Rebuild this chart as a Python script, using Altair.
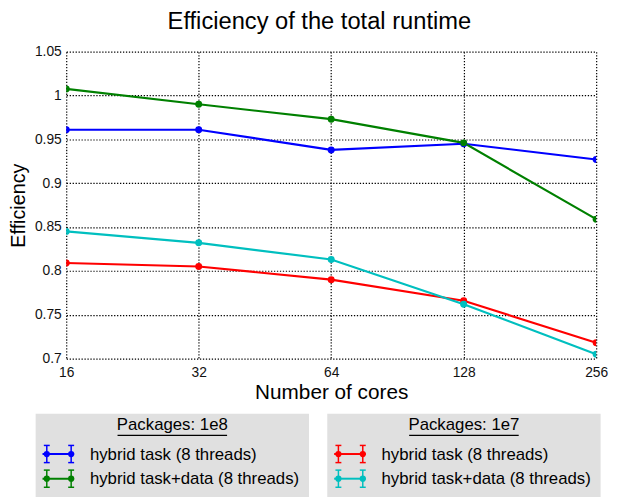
import altair as alt
import pandas as pd

# ---------------- data ----------------
cores = [16, 32, 64, 128, 256]
series_packages = ["1e8", "1e8", "1e7", "1e7"]
series_labels = [
    "hybrid task (8 threads)",
    "hybrid task+data (8 threads)",
    "hybrid task (8 threads)",
    "hybrid task+data (8 threads)",
]
series_colors = ["#0000ff", "#008000", "#ff0000", "#00bfbf"]
eff_1e8_task = [0.961, 0.961, 0.938, 0.945, 0.927]
eff_1e8_taskdata = [1.0075, 0.990, 0.973, 0.946, 0.859]
eff_1e7_task = [0.809, 0.805, 0.790, 0.766, 0.718]
eff_1e7_taskdata = [0.845, 0.832, 0.813, 0.762, 0.705]
series_values = [eff_1e8_task, eff_1e8_taskdata, eff_1e7_task, eff_1e7_taskdata]
y_ticks = [0.7, 0.75, 0.8, 0.85, 0.9, 0.95, 1.0, 1.05]
legend_packages = ["1e8", "1e7"]

TITLE = "Efficiency of the total runtime"
X_TITLE = "Number of cores"
Y_TITLE = "Efficiency"
FONT = "Liberation Sans"

keys = [f"{p}: {l}" for p, l in zip(series_packages, series_labels)]
df = pd.DataFrame(
    [
        {"cores": c, "eff": v, "key": k}
        for k, vals in zip(keys, series_values)
        for c, v in zip(cores, vals)
    ]
)

W, H = 537, 311

color = alt.Color("key:N", scale=alt.Scale(domain=keys, range=series_colors), legend=None)

x = alt.X(
    "cores:Q",
    scale=alt.Scale(type="log", base=2, domain=[16, 256], nice=False),
    axis=alt.Axis(
        values=cores, format="d", title=X_TITLE, labelFlush=False, labelOverlap=False,
        labelPadding=7, titleX=W / 2, titleY=40, titleAlign="center",
        titleBaseline="alphabetic", titleFontSize=21,
    ),
)
y = alt.Y(
    "eff:Q",
    scale=alt.Scale(domain=[0.7, 1.05], nice=False, zero=False),
    axis=alt.Axis(
        values=y_ticks, format="~g", title=Y_TITLE, labelOverlap=False, labelFlush=False,
        labelPadding=5, titleX=-48, titleY=H / 2, titleAlign="center",
        titleBaseline="middle", titleAngle=270, titleFontSize=20,
    ),
)

lines = alt.Chart(df).mark_line(strokeWidth=2.2, clip=True).encode(
    x=x, y=y, color=color, order="cores:Q"
)
points = alt.Chart(df).mark_point(filled=True, size=50, opacity=1, clip=True).encode(
    x=x, y=y, color=color
)

# ---------------- custom legend (pixel layout) ----------------
BOX_X0, BOX_W, BOX_STEP = -31, 277, 295.5
BOX_Y0, BOX_Y1 = 367, 460
TITLE_BASE = 383.3
UNDER_Y = 388.7
ITEM_Y0, ITEM_STEP = 407.7, 25

boxes = pd.DataFrame(
    [
        {"x1": BOX_X0 + i * BOX_STEP, "x2": BOX_X0 + i * BOX_STEP + BOX_W,
         "y1": BOX_Y0, "y2": BOX_Y1, "title": f"Packages: {p}",
         "cx": BOX_X0 + i * BOX_STEP + BOX_W / 2}
        for i, p in enumerate(legend_packages)
    ]
)
boxes["u1"] = boxes["cx"] - 55.5
boxes["u2"] = boxes["cx"] + 55.5
boxes["ty"] = TITLE_BASE
boxes["uy"] = UNDER_Y

items = []
for idx, (k, p, l) in enumerate(zip(keys, series_packages, series_labels)):
    b = legend_packages.index(p)
    row = sum(1 for q in series_packages[:idx] if q == p)
    ox = BOX_X0 + b * BOX_STEP
    cy = ITEM_Y0 + row * ITEM_STEP
    items.append({"key": k, "label": l, "cy": cy, "ty": cy + 5.6,
                  "lx1": ox + 7, "lx2": ox + 39, "m1": ox + 11.3, "m2": ox + 36,
                  "tx": ox + 55})
items = pd.DataFrame(items)

markers = []
for _, r in items.iterrows():
    for m in (r["m1"], r["m2"]):
        markers.append({"key": r["key"], "mx": m, "cy": r["cy"],
                        "v1": r["cy"] - 8.7, "v2": r["cy"] + 8.7,
                        "s1": m - 3, "s2": m + 3})
markers = pd.DataFrame(markers)
serifs = pd.concat(
    [markers.assign(sy=markers["v1"]), markers.assign(sy=markers["v2"])],
    ignore_index=True,
)

def px(f):
    return alt.X(f, type="quantitative", scale=None, axis=None)

def py(f):
    return alt.Y(f, type="quantitative", scale=None, axis=None)

leg_boxes = alt.Chart(boxes).mark_rect(color="#e0e0e0").encode(
    x=px("x1"), x2="x2", y=py("y1"), y2="y2"
)
leg_titles = alt.Chart(boxes).mark_text(
    font=FONT, fontSize=17, align="center", baseline="alphabetic", color="#000"
).encode(x=px("cx"), y=py("ty"), text="title:N")
leg_under = alt.Chart(boxes).mark_rule(color="#000", strokeWidth=1.3).encode(
    x=px("u1"), x2="u2", y=py("uy")
)
leg_lines = alt.Chart(items).mark_rule(strokeWidth=2).encode(
    x=px("lx1"), x2="lx2", y=py("cy"), color=color
)
leg_vbars = alt.Chart(markers).mark_rule(strokeWidth=1.5).encode(
    x=px("mx"), y=py("v1"), y2="v2", color=color
)
leg_serifs = alt.Chart(serifs).mark_rule(strokeWidth=1.5).encode(
    x=px("s1"), x2="s2", y=py("sy"), color=color
)
leg_points = alt.Chart(markers).mark_point(filled=True, size=40, opacity=1).encode(
    x=px("mx"), y=py("cy"), color=color
)
leg_text = alt.Chart(items).mark_text(
    font=FONT, fontSize=17, align="left", baseline="alphabetic", color="#000"
).encode(x=px("tx"), y=py("ty"), text="label:N")

chart = (
    alt.layer(
        lines, points,
        leg_boxes, leg_titles, leg_under, leg_lines, leg_vbars, leg_serifs,
        leg_points, leg_text,
    )
    .properties(
        width=W,
        height=H,
        title=alt.TitleParams(
            TITLE, fontSize=24, font=FONT, fontWeight="normal", color="#000",
            anchor="middle", frame="group", baseline="alphabetic", offset=0, dy=8, dx=-12,
        ),
        autosize=alt.AutoSizeParams(type="none"),
        padding={"left": 59, "top": 41, "right": 13, "bottom": 137},
    )
    .configure_view(strokeOpacity=0)
    .configure_axis(
        domain=False, ticks=False, grid=True, gridColor="#000", gridDash=[1.3, 1.7],
        gridWidth=1.2, gridOpacity=1, labelFont=FONT, labelFontSize=14,
        labelColor="#111", titleFont=FONT, titleFontWeight="normal", titleColor="#000",
    )
)

chart.save("out.html", embed_options={"renderer": "svg", "actions": False})
